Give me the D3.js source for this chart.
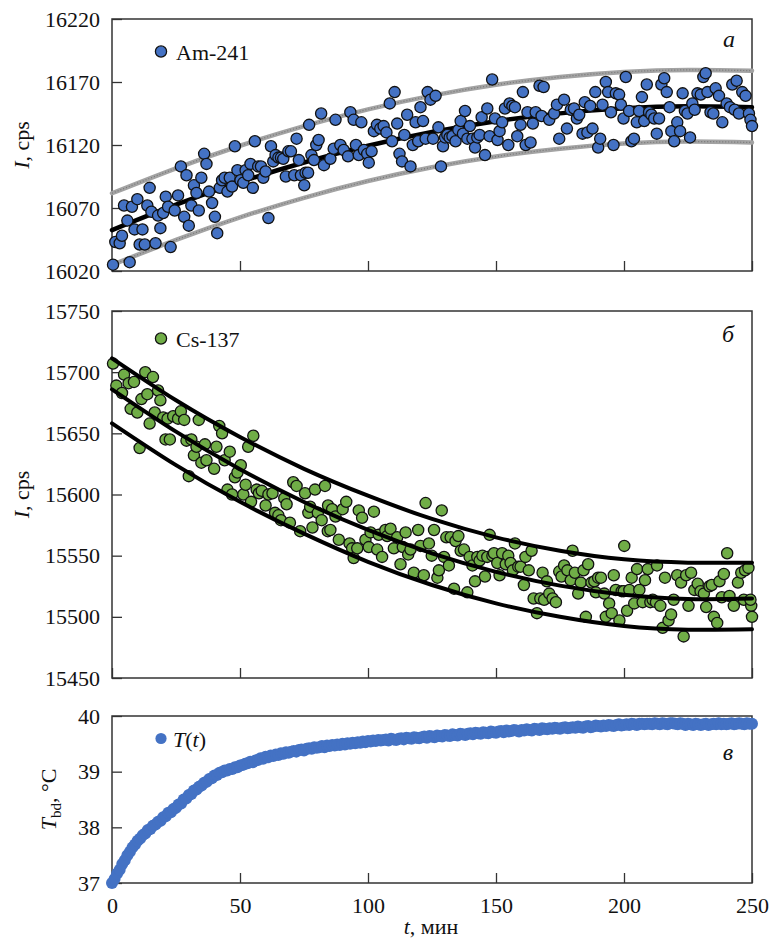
<!DOCTYPE html>
<html>
<head>
<meta charset="utf-8">
<script src="https://cdn.jsdelivr.net/npm/d3@7"></script>
<style>
  html, body { margin: 0; padding: 0; background: #fff; }
  svg { display: block; }
  text { font-family: "Liberation Serif", "DejaVu Serif", serif; fill: #111; }
</style>
</head>
<body>
<svg id="chart" width="771" height="938"></svg>
<script>
// ---- Am-241 count rate: [time, min ; rate, cps] ----
const amPoints = [
[0.4,16025],[1.3,16043],[3,16042],[3.9,16048],[4.7,16072],[6,16060],[6.9,16027],[7.8,16071],[8.8,16053],[9.9,16077],[10.8,16041],[11.9,16053],[12.8,16041],[13.8,16072],[14.7,16086],[15.4,16067],[17,16042],[18,16064],[18.9,16054],[20,16066],[21,16079],[21.9,16071],[22.9,16039],[24.5,16068],[25.8,16080],[26.9,16103],[28.2,16063],[29.1,16096],[30,16056],[31,16072],[32,16088],[33,16082],[33.9,16068],[34.9,16094],[36,16113],[36.9,16105],[37.9,16083],[39.1,16074],[40.2,16063],[41.1,16050],[42.1,16086],[43,16092],[44,16094],[45.1,16083],[46,16094],[46.9,16087],[48,16119],[49,16100],[50.2,16092],[51.3,16090],[52.2,16100],[53.2,16096],[54.1,16105],[55,16086],[55.8,16123],[57.1,16103],[58.2,16103],[59.1,16094],[60,16099],[61.1,16062],[62.1,16119],[63,16107],[63.9,16112],[65,16110],[66,16110],[66.9,16109],[67.9,16095],[68.9,16115],[69.9,16115],[71.2,16096],[72.1,16125],[73,16108],[73.8,16096],[75.1,16088],[75.6,16098],[76.6,16098],[77,16136],[77.9,16112],[78.9,16108],[79.8,16120],[80.7,16124],[81.7,16145],[82.8,16104],
[85.3,16109],[86.6,16117],[87.3,16140],[89.2,16120],[90.5,16116],[92.2,16111],[93.1,16146],[94.4,16140],[95.3,16120],[96.4,16112],[97.4,16138],[98.4,16116],[99.7,16113],[100.3,16106],[101.4,16115],[102.3,16131],[103.5,16136],[104.8,16133],[106.1,16135],[107.2,16130],[108.5,16153],[109.4,16123],[110.4,16162],[111.4,16137],[112.3,16113],[113.3,16107],[114.2,16128],[115.3,16144],[116.6,16103],[117.5,16120],[118.6,16138],[119.6,16123],[120.5,16150],[121.5,16139],[122.5,16125],[123.3,16162],[124.4,16156],[125.4,16125],[126.4,16159],[127.5,16134],[128.5,16103],[129.3,16119],[130.1,16126],[131,16128],[131.9,16126],[133,16127],[134.2,16123],[135.3,16132],[136.2,16139],[137.1,16129],[137.9,16147],[138.8,16125],[139.8,16135],[140.8,16125],[141.8,16118],[142.7,16126],[143.6,16128],[144.4,16142],[145.7,16112],[146.6,16149],[147.5,16127],[148.5,16172],[149.6,16141],[150.6,16124],[151.4,16131],[152.4,16138],[153.5,16149],[154.8,16120],[155.3,16153],[156.4,16151],[157.4,16150],[158.3,16127],[159.6,16136],[160.5,16162],[161.6,16120],[162.3,16146],[163.5,16122],[164.4,16137],[165.5,16146],[167,16167],[167.8,16143],
[168.6,16166],[170.8,16140],[172.7,16145],[173.8,16152],[174.7,16125],[176.6,16156],[177.7,16133],[179.2,16148],[180.5,16149],[181.6,16141],[182.5,16144],[183.8,16129],[184.7,16154],[185.7,16130],[186.8,16151],[187.7,16133],[188.8,16162],[189.9,16118],[190.7,16125],[191.6,16152],[192.9,16170],[193.8,16162],[194.9,16146],[195.9,16120],[196.8,16161],[198.1,16160],[198.8,16152],[199.8,16141],[200.7,16174],[202,16147],[202.9,16123],[203.9,16125],[205,16138],[205.9,16147],[207,16158],[207.9,16139],[208.9,16168],[209.8,16146],[210.7,16144],[211.8,16141],[212.8,16129],[213.7,16141],[214.6,16168],[215.7,16173],[216.7,16162],[217.8,16150],[218.5,16131],[219.6,16123],[220.8,16138],[221.9,16131],[222.9,16161],[223.8,16147],[224.8,16145],[225.8,16126],[226.7,16153],[227.6,16148],[228.7,16161],[230,16160],[231,16174],[231.9,16177],[232.6,16162],[233.8,16146],[234.9,16145],[235.8,16165],[237.1,16159],[238.4,16138],[240.1,16153],[241.4,16150],[242.3,16168],[243.2,16148],[244,16171],[244.9,16145],[246.2,16162],[247.5,16159],[248.8,16145],[249.4,16140],[250,16135]
];

// ---- Cs-137 count rate: [time, min ; rate, cps] ----
const csPoints = [
[0.4,15707],[1.7,15689],[3.9,15683],[4.7,15698],[6.5,15691],[7.3,15670],[8.6,15692],[9.9,15667],[10.8,15638],[11.5,15678],[13,15700],[13.8,15682],[14.7,15658],[16,15696],[16.7,15667],[18,15685],[18.9,15677],[20,15663],[20.9,15645],[21.7,15662],[22.6,15645],[23.9,15664],[25.8,15662],[26.9,15668],[28.2,15661],[29.1,15644],[30,15615],[31,15645],[32,15632],[33,15639],[33.9,15661],[34.9,15626],[36.3,15641],[36.9,15628],[39.9,15621],[40.8,15639],[41.9,15656],[43,15650],[44,15628],[45.1,15604],[46,15635],[46.9,15600],[48,15614],[49,15618],[50.3,15624],[51.3,15600],[52.2,15608],[53.2,15639],[54.3,15594],[55.2,15648],[56.5,15604],[57.4,15601],[58.5,15603],[60,15591],[61.1,15600],[62.7,15601],[63.7,15585],[65,15583],[66,15579],[67.3,15597],[68.2,15592],[69.5,15577],[70.8,15610],[72.1,15607],[73.5,15570],[75.4,15601],[76.7,15585],[77.4,15590],[78.3,15573],[79.3,15604],[80.4,15585],[81.9,15579],[83.2,15607],[84.3,15570],
[84.4,15591],[86,15588],[85.3,15571],[87.3,15582],[88.6,15563],[90.1,15588],[91.5,15594],[92.8,15560],[93.8,15556],[94.4,15548],[95.8,15556],[96.4,15587],[97.7,15581],[99,15563],[100.3,15557],[101,15569],[102.3,15586],[103.6,15555],[104.2,15567],[105.5,15549],[106.8,15571],[107.5,15566],[108.8,15572],[110.1,15556],[111.4,15565],[112.7,15543],[113.6,15557],[114.7,15569],[115.7,15551],[116.6,15555],[117.9,15536],[119.6,15571],[120.5,15558],[121.8,15534],[122.5,15593],[123.8,15560],[124.9,15550],[125.8,15571],[127.1,15532],[127.7,15538],[128.8,15587],[129.7,15549],[130.6,15565],[131.6,15542],[132.3,15565],[133.6,15523],[134.2,15562],[135.3,15566],[136.2,15554],[137.5,15555],[138.8,15520],[139.7,15549],[140.8,15542],[141.8,15529],[142.7,15549],[143.6,15546],[144.7,15550],[145.7,15533],[146.6,15549],[147.5,15567],[148.6,15550],[149.2,15552],[150.5,15544],[151.4,15534],[152.4,15552],[153.8,15543],[154.8,15550],[155.7,15544],[156.6,15538],[157.4,15560],[158.7,15541],[159.6,15541],[160.9,15526],[161.5,15549],[162.8,15538],[163.9,15554],[164.7,15515],[166,15503],[167.3,15515],
[168.2,15536],[168.8,15514],[169.9,15529],[170.8,15519],[172.1,15515],[173.4,15512],[174.7,15537],[175.6,15533],[176.6,15542],[177.9,15538],[179.2,15530],[179.9,15554],[180.8,15536],[182.1,15519],[183.1,15528],[184.2,15538],[185.1,15500],[186,15543],[187.3,15528],[188.4,15529],[189,15520],[189.9,15532],[191,15532],[192.3,15519],[192.9,15500],[194.2,15511],[195.2,15503],[196,15534],[196.8,15522],[198.2,15497],[199.1,15521],[199.9,15521],[200.1,15558],[201.2,15505],[202.1,15522],[203,15532],[204,15511],[205.1,15539],[206,15522],[207.3,15512],[208.2,15530],[209.3,15539],[210.3,15512],[211.2,15514],[212.5,15512],[212.9,15542],[214.2,15509],[215.1,15491],[216,15532],[217.4,15497],[218.4,15502],[219.4,15514],[220.8,15534],[222.3,15528],[223.3,15484],[224.3,15534],[225.2,15509],[226.2,15536],[227.5,15522],[228.8,15527],[229.9,15521],[231.2,15519],[232.1,15508],[233.4,15525],[234.3,15526],[235.1,15500],[236.4,15495],[237.3,15529],[238.2,15516],[239,15535],[240.3,15552],[241.2,15517],[242.9,15509],[244.5,15528],[245.8,15536],[246.8,15514],[247.3,15538],[248.6,15540],[249.7,15509],[249.4,15514],[250,15500]
];

// ---- fitted trends and bands, sampled every 25 min ----
const fitTimes = [0, 25, 50, 75, 100, 125, 150, 175, 200, 225, 250];
const amFit   = [16052.5, 16072.7, 16090.6, 16106.1, 16119.4, 16130.3, 16138.9, 16145.1, 16149.1, 16150.7, 16150.0];
const amUpper = [16081.7, 16101.5, 16119.4, 16135.0, 16148.3, 16159.2, 16167.8, 16174.0, 16178.0, 16179.6, 16179.0];
const amLower = [16024.8, 16044.7, 16062.6, 16078.1, 16091.4, 16102.3, 16110.9, 16117.1, 16121.1, 16122.7, 16122.0];
const csFit   = [15686.0, 15651.4, 15620.7, 15593.9, 15571.0, 15551.9, 15536.8, 15525.5, 15518.1, 15514.6, 15515.0];
const csUpper = [15711.3, 15677.0, 15647.0, 15621.0, 15599.0, 15580.0, 15565.0, 15554.0, 15547.0, 15544.3, 15544.3];
const csLower = [15658.2, 15624.0, 15594.0, 15568.0, 15545.0, 15526.0, 15511.0, 15500.0, 15492.5, 15489.5, 15489.8];

// ---- detector block temperature, °C, one reading per minute from t = 0 ----
const tempValues = [
37.00,37.07,37.17,37.24,37.34,37.41,37.50,37.56,37.64,37.69,37.76,
37.80,37.86,37.89,37.95,37.97,38.03,38.05,38.10,38.12,38.18,
38.20,38.26,38.27,38.33,38.35,38.41,38.43,38.50,38.52,38.58,
38.60,38.66,38.68,38.73,38.75,38.80,38.82,38.87,38.88,38.93,
38.94,38.98,38.99,39.02,39.02,39.05,39.05,39.08,39.08,39.11,
39.12,39.14,39.15,39.18,39.17,39.20,39.21,39.24,39.23,39.27,
39.26,39.29,39.28,39.31,39.30,39.33,39.32,39.35,39.34,39.36,
39.37,39.36,39.39,39.40,39.38,39.41,39.42,39.41,39.44,39.43,
39.44,39.46,39.44,39.47,39.46,39.48,39.47,39.49,39.48,39.50,
39.49,39.51,39.50,39.52,39.51,39.53,39.52,39.54,39.53,39.55,
39.54,39.56,39.55,39.57,39.56,39.57,39.58,39.56,39.59,39.58,
39.57,39.59,39.60,39.58,39.61,39.60,39.59,39.62,39.61,39.60,
39.62,39.63,39.61,39.64,39.63,39.62,39.65,39.64,39.63,39.66,
39.65,39.64,39.67,39.66,39.65,39.68,39.67,39.66,39.68,39.69,
39.67,39.70,39.69,39.68,39.71,39.70,39.69,39.72,39.71,39.70,
39.72,39.73,39.71,39.74,39.72,39.73,39.75,39.74,39.72,39.75,
39.74,39.76,39.75,39.74,39.77,39.76,39.75,39.78,39.77,39.76,
39.78,39.77,39.79,39.78,39.77,39.79,39.80,39.78,39.79,39.80,
39.79,39.81,39.80,39.79,39.81,39.82,39.80,39.81,39.83,39.82,
39.81,39.83,39.82,39.84,39.83,39.82,39.84,39.85,39.83,39.84,
39.85,39.84,39.86,39.85,39.84,39.86,39.86,39.85,39.86,39.86,
39.85,39.87,39.86,39.85,39.87,39.86,39.85,39.87,39.87,39.86,
39.85,39.87,39.86,39.84,39.86,39.85,39.84,39.86,39.85,39.84,
39.85,39.86,39.84,39.85,39.86,39.85,39.87,39.85,39.86,39.85,
39.86,39.87,39.85,39.86,39.87,39.86,39.85,39.87,39.86,39.86
];

// ---- axis ticks ----
const timeTicks = [0, 50, 100, 150, 200, 250];
const amTicks = [16020, 16070, 16120, 16170, 16220];
const csTicks = [15450, 15500, 15550, 15600, 15650, 15700, 15750];
const tempTicks = [37, 38, 39, 40];

// ---- drawing ----
const svg = d3.select("#chart");
const FONT = '"Liberation Serif", "DejaVu Serif", serif';
const BLUE = "#4472C4", GREEN = "#70AD47";
const intFmt = d3.format("d");

const x = d3.scaleLinear().domain([0, 250]).range([112, 752]);

function panel(cfg) {
  const y = d3.scaleLinear().domain(cfg.domain).range([cfg.bottom, cfg.top]);
  const g = svg.append("g");

  const yAxis = d3.axisLeft(y).tickValues(cfg.ticks).tickFormat(intFmt)
    .tickSizeInner(-10).tickSizeOuter(0).tickPadding(12);
  const ga = g.append("g").attr("transform", `translate(${x.range()[0]},0)`).call(yAxis);
  const xAxis = d3.axisBottom(x).tickValues(timeTicks).tickFormat(cfg.xLabels ? intFmt : () => "")
    .tickSizeInner(-10).tickSizeOuter(0).tickPadding(14);
  const gb = g.append("g").attr("transform", `translate(0,${cfg.bottom})`).call(xAxis);
  for (const a of [ga, gb]) {
    a.select(".domain").remove();
    a.selectAll(".tick line").attr("stroke", "#333").attr("stroke-width", 1.3);
    a.selectAll(".tick text").attr("font-family", FONT).attr("font-size", 22).attr("fill", "#111");
  }
  g.append("rect")
    .attr("x", x.range()[0]).attr("y", cfg.top)
    .attr("width", x.range()[1] - x.range()[0]).attr("height", cfg.bottom - cfg.top)
    .attr("fill", "none").attr("stroke", "#333").attr("stroke-width", 1.5);
  return { g, y };
}

function fitLine(y, values) {
  return d3.line().x((d, i) => x(fitTimes[i])).y(d => y(d)).curve(d3.curveNatural)(values);
}

function drawBand(g, y, values) {
  g.append("path").attr("d", fitLine(y, values)).attr("fill", "none")
    .attr("stroke", "#a3a3a3").attr("stroke-width", 4.5).attr("stroke-linecap", "round");
  g.append("path").attr("d", fitLine(y, values)).attr("fill", "none")
    .attr("stroke", "#777").attr("stroke-width", 1.2).attr("stroke-dasharray", "1 2");
}

function drawFit(g, y, values, w) {
  g.append("path").attr("d", fitLine(y, values)).attr("fill", "none")
    .attr("stroke", "#000").attr("stroke-width", w).attr("stroke-linecap", "round");
}

function drawScatter(g, y, pts, color) {
  g.append("g").selectAll("circle").data(pts).join("circle")
    .attr("cx", d => x(d[0])).attr("cy", d => y(d[1])).attr("r", 5.6)
    .attr("fill", color).attr("stroke", "#111").attr("stroke-width", 1.3);
}

function legend(g, cy, color, stroked, build) {
  g.append("circle").attr("cx", 161).attr("cy", cy).attr("r", 5.6).attr("fill", color)
    .attr("stroke", stroked ? "#111" : "none").attr("stroke-width", 1.3);
  const t = g.append("text").attr("x", 176).attr("y", cy + 8).attr("font-size", 22);
  build(t);
}

function yTitle(g, cx, cy, build) {
  const t = g.append("text").attr("transform", `translate(${cx},${cy}) rotate(-90)`)
    .attr("text-anchor", "middle").attr("font-size", 22);
  build(t);
}

function tag(g, px, py, s) {
  g.append("text").attr("x", px).attr("y", py).attr("text-anchor", "middle")
    .attr("font-size", 24).attr("font-style", "italic").text(s);
}

// panel a: Am-241
{
  const { g, y } = panel({ domain: [16020, 16220], top: 19, bottom: 271, ticks: amTicks });
  drawBand(g, y, amUpper);
  drawBand(g, y, amLower);
  drawFit(g, y, amFit, 4.5);
  drawScatter(g, y, amPoints, BLUE);
  legend(g, 51.5, BLUE, true, t => t.text("Am-241"));
  yTitle(g, 29, 145, t => { t.append("tspan").attr("font-style", "italic").text("I"); t.append("tspan").text(", cps"); });
  tag(g, 729, 47, "a");
}

// panel б: Cs-137
{
  const { g, y } = panel({ domain: [15450, 15750], top: 311, bottom: 678, ticks: csTicks });
  drawScatter(g, y, csPoints, GREEN);
  drawFit(g, y, csUpper, 4);
  drawFit(g, y, csFit, 4);
  drawFit(g, y, csLower, 4);
  legend(g, 338.5, GREEN, true, t => t.text("Cs-137"));
  yTitle(g, 29, 494.5, t => { t.append("tspan").attr("font-style", "italic").text("I"); t.append("tspan").text(", cps"); });
  tag(g, 728, 342, "б");
}

// panel в: temperature
{
  const { g, y } = panel({ domain: [37, 40], top: 716, bottom: 883, ticks: tempTicks, xLabels: true });
  g.append("g").selectAll("circle").data(tempValues).join("circle")
    .attr("cx", (d, i) => x(i)).attr("cy", d => y(d)).attr("r", 6)
    .attr("fill", BLUE);
  legend(g, 738.5, BLUE, false, t => {
    t.attr("x", 173);
    t.append("tspan").attr("font-style", "italic").text("T");
    t.append("tspan").text("(");
    t.append("tspan").attr("font-style", "italic").text("t");
    t.append("tspan").text(")");
  });
  yTitle(g, 56, 799.5, t => {
    t.append("tspan").attr("font-style", "italic").text("T");
    t.append("tspan").attr("font-size", 15).attr("dy", 5).text("bd");
    t.append("tspan").attr("dy", -5).text(", °C");
  });
  tag(g, 728, 760, "в");
  svg.append("text").attr("x", 431).attr("y", 934).attr("text-anchor", "middle").attr("font-size", 22)
    .call(t => { t.append("tspan").attr("font-style", "italic").text("t"); t.append("tspan").text(", мин"); });
}
</script>
</body>
</html>
